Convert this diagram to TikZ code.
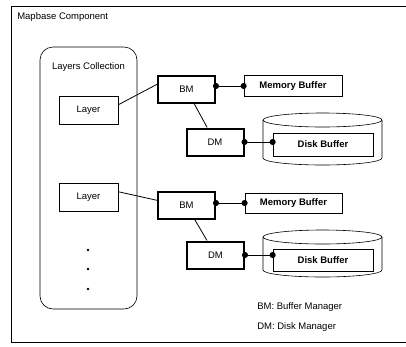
\documentclass[tikz,border=0pt]{standalone}
\usepackage{fontspec}
\setmainfont{Liberation Sans}
\usetikzlibrary{arrows.meta}

\tikzset{every picture/.style={line width=0.6pt}}
\tikzset{
  box/.style={draw, line width=0.7pt, minimum width=59pt, minimum height=28pt, inner sep=0pt, font=\fontsize{9.5}{11}\selectfont},
  manager/.style={box, line width=2pt, minimum width=57pt, minimum height=27pt},
  buffer/.style={box, font=\fontsize{9.5}{11}\selectfont\bfseries, minimum height=21pt},
  label/.style={inner sep=0pt, font=\fontsize{9.5}{11}\selectfont},
  link/.style={line width=0.8pt, {Circle[length=6pt]}-{Circle[length=6pt]}, shorten <=-3pt, shorten >=-3pt},
  dot/.style={circle, fill, inner sep=0pt, minimum size=2.6pt}
}

\begin{document}
\begin{tikzpicture}[x=1pt,y=-1pt]
  \useasboundingbox (0,0) rectangle (406,346);

  \draw (406,6) -- (11,6) -- (11,342) -- (406,342);
  \node [label, anchor=west] (title) at (17,17) {Mapbase Component};

  \node [draw, rounded corners=13pt, minimum width=97pt, minimum height=262pt] (coll) at (88.5,178) {};
  \node [label] (colltitle) at (88.5,67) {Layers Collection};
  \node [box] (l1) at (88.5,110) {Layer};
  \node [box] (l2) at (88.5,197) {Layer};
  \foreach \y in {250,269,289}
    \node [dot] (dot\y) at (88,\y) {};

  \node [manager] (bm1) at (186.5,89.5) {BM};
  \node [manager] (dm1) at (215,142) {DM};
  \node [buffer, minimum width=98pt] (mb1) at (293,86) {Memory Buffer};
  \draw (263,120) -- (263,158) .. controls (263,161.9) and (289.6,165) .. (322.5,165)
        .. controls (355.4,165) and (382,161.9) .. (382,158) -- (382,120);
  \draw (322.5,120) ellipse [x radius=59.5pt, y radius=7pt];
  \node [buffer, minimum width=100pt, minimum height=23pt] (db1) at (323,144.5) {Disk Buffer};

  \node [manager] (bm2) at (186.5,205.5) {BM};
  \node [manager] (dm2) at (215.5,255) {DM};
  \node [buffer, minimum width=97pt, minimum height=20pt] (mb2) at (293.5,203) {Memory Buffer};
  \draw (263,237) -- (263,270) .. controls (263,273.9) and (289.6,277) .. (322.5,277)
        .. controls (355.4,277) and (382,273.9) .. (382,270) -- (382,237);
  \draw (322.5,237) ellipse [x radius=59.5pt, y radius=7pt];
  \node [buffer, minimum width=100pt, minimum height=22pt] (db2) at (323,260) {Disk Buffer};

  \draw [line width=0.8pt] (l1.10) -- (bm1.170);
  \draw [line width=0.8pt] (l2.10) -- (bm2.170);
  \draw [line width=0.8pt] (bm1) -- (dm1);
  \draw [line width=0.8pt] (bm2) -- (dm2);
  \draw [link] (bm1.east |- mb1.west) -- (mb1.west);
  \draw [link] (bm2.east |- mb2.west) -- (mb2.west);
  \draw [link] (dm1.east) -- (dm1.east -| db1.west);
  \draw [link] (dm2.east) -- (dm2.east -| db2.west);

  \node [label, anchor=west] (legbm) at (257,307) {BM: Buffer Manager};
  \node [label, anchor=west] (legdm) at (257,327) {DM: Disk Manager};
\end{tikzpicture}
\end{document}
